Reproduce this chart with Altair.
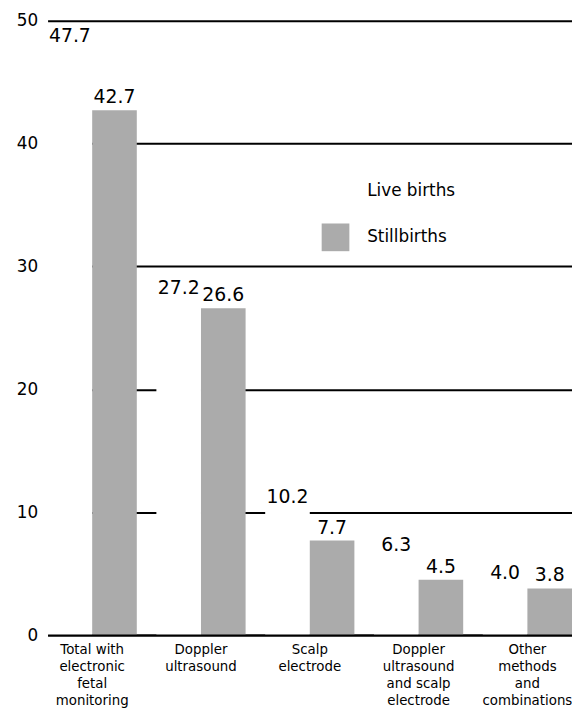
import altair as alt
import pandas as pd

categories = [
    "Total with\nelectronic\nfetal\nmonitoring",
    "Doppler\nultrasound",
    "Scalp\nelectrode",
    "Doppler\nultrasound\nand scalp\nelectrode",
    "Other\nmethods\nand\ncombinations",
]
live_births = [47.7, 27.2, 10.2, 6.3, 4.0]
stillbirths = [42.7, 26.6, 7.7, 4.5, 3.8]
series = ["Live births", "Stillbirths"]
y_ticks = [0, 10, 20, 30, 40, 50]

rows = []
for c, lv, sv in zip(categories, live_births, stillbirths):
    rows.append({"category": c, "series": series[0], "value": lv})
    rows.append({"category": c, "series": series[1], "value": sv})
df = pd.DataFrame(rows)

FONT = "DejaVu Sans"

x = alt.X(
    "category:N",
    sort=categories,
    scale=alt.Scale(paddingInner=0.18, paddingOuter=0),
    axis=alt.Axis(
        title=None, labelAngle=0, labelExpr="split(datum.label, '\\n')",
        labelFont=FONT, labelFontSize=13.5, labelLineHeight=17, labelPadding=8,
        labelBaseline="top", labelColor="black", ticks=False, grid=False,
        domainColor="black", domainWidth=2, zindex=1, labelLimit=0,
    ),
)
y = alt.Y(
    "value:Q",
    scale=alt.Scale(domain=[0, 50]),
    axis=alt.Axis(
        title=None, values=y_ticks, grid=True, gridColor="black", gridWidth=2,
        domain=False, ticks=False,
        labelFont=FONT, labelFontSize=17, labelPadding=10, labelColor="black",
    ),
)
xoff = alt.XOffset("series:N", sort=series, scale=alt.Scale(paddingInner=0, paddingOuter=0))
color = alt.Color(
    "series:N",
    sort=series,
    scale=alt.Scale(domain=series, range=["#ffffff", "#ababab"]),
    legend=alt.Legend(
        title=None, orient="none", legendX=277, legendY=158,
        symbolType="square", symbolSize=784, symbolStrokeWidth=0,
        labelFont=FONT, labelFontSize=17, labelColor="black",
        labelOffset=18, rowPadding=19,
    ),
)

bars = alt.Chart(df).mark_bar(strokeWidth=0).encode(x=x, xOffset=xoff, y=y, color=color)
labels = alt.Chart(df).mark_text(
    baseline="bottom", dy=-3, fontSize=19, font=FONT, color="black"
).encode(x=x, xOffset=xoff, y=y, text=alt.Text("value:Q", format=".1f"))

chart = (
    alt.layer(bars, labels)
    .properties(
        width=530, height=621,
        background="white",
        autosize=alt.AutoSizeParams(type="none"),
        padding={"left": 40, "top": 9, "right": 0, "bottom": 80},
    )
    .configure_view(stroke="transparent", strokeWidth=0)
)

chart.save("out.html", embed_options={"renderer": "svg", "actions": False})
